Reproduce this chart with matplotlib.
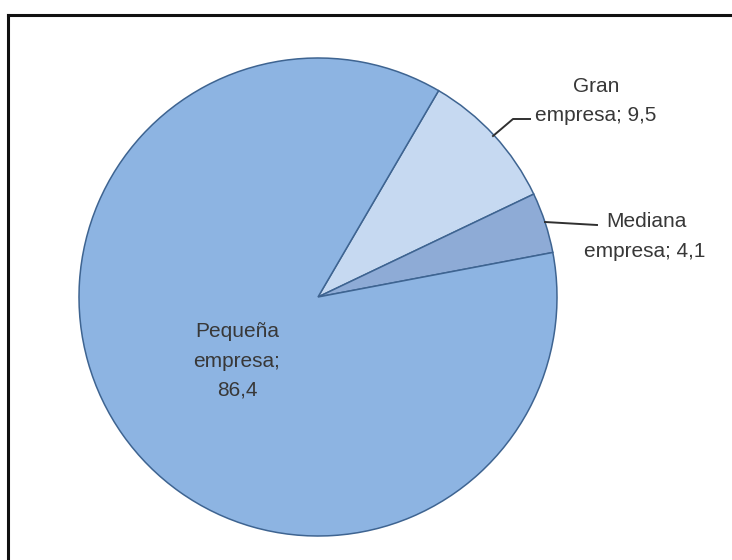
import matplotlib
matplotlib.use("Agg")
import matplotlib.pyplot as plt
from matplotlib.lines import Line2D

# Distribución de empresas por tamaño (%)
categorias = ["Gran empresa", "Mediana empresa", "Pequeña empresa"]
porcentajes = [9.5, 4.1, 86.4]
colores = ["#c6d9f1", "#8eabd6", "#8db4e2"]

W, H = 732, 560
plt.rcParams["font.family"] = ["Liberation Sans", "DejaVu Sans"]

fig = plt.figure(figsize=(W / 100, H / 100), dpi=100)
ax = fig.add_axes([0, 0, 1, 1])

cx, cy, r = 318, H - 297, 239
ax.pie(
    porcentajes,
    colors=colores,
    startangle=59.7,
    counterclock=False,
    center=(cx, cy),
    radius=r,
    frame=True,
    wedgeprops=dict(edgecolor="#3e6491", linewidth=1.1),
)
ax.set_xlim(0, W)
ax.set_ylim(0, H)
ax.set_aspect("equal")
ax.axis("off")


def fmt(v):
    return f"{v:.1f}".replace(".", ",")


txt = dict(fontsize=15, color="#383838", ha="center", va="baseline")
guia = dict(color="#303030", lw=1.4)

# Gran empresa
ax.text(596, H - 92, "Gran", **txt)
ax.text(596, H - 121, f"empresa; {fmt(porcentajes[0])}", **txt)
ax.plot([493, 513, 530], [H - 136, H - 119, H - 119], **guia)

# Mediana empresa
ax.text(646, H - 227, "Mediana", **txt)
ax.text(645, H - 257, f"empresa; {fmt(porcentajes[1])}", **txt)
ax.plot([545, 597], [H - 222, H - 225], **guia)

# Pequeña empresa
ax.text(237, H - 337, "Pequeña", **txt)
ax.text(237, H - 367, "empresa;", **txt)
ax.text(237, H - 395, fmt(porcentajes[2]), **txt)

# marco exterior
fig.add_artist(Line2D([8 / W, 8 / W], [0, 1 - 15 / H], transform=fig.transFigure,
                      color="#111111", lw=2.2))
fig.add_artist(Line2D([8 / W, 1], [1 - 15 / H, 1 - 15 / H], transform=fig.transFigure,
                      color="#111111", lw=2.2))

fig.savefig("out.png", dpi=100)
